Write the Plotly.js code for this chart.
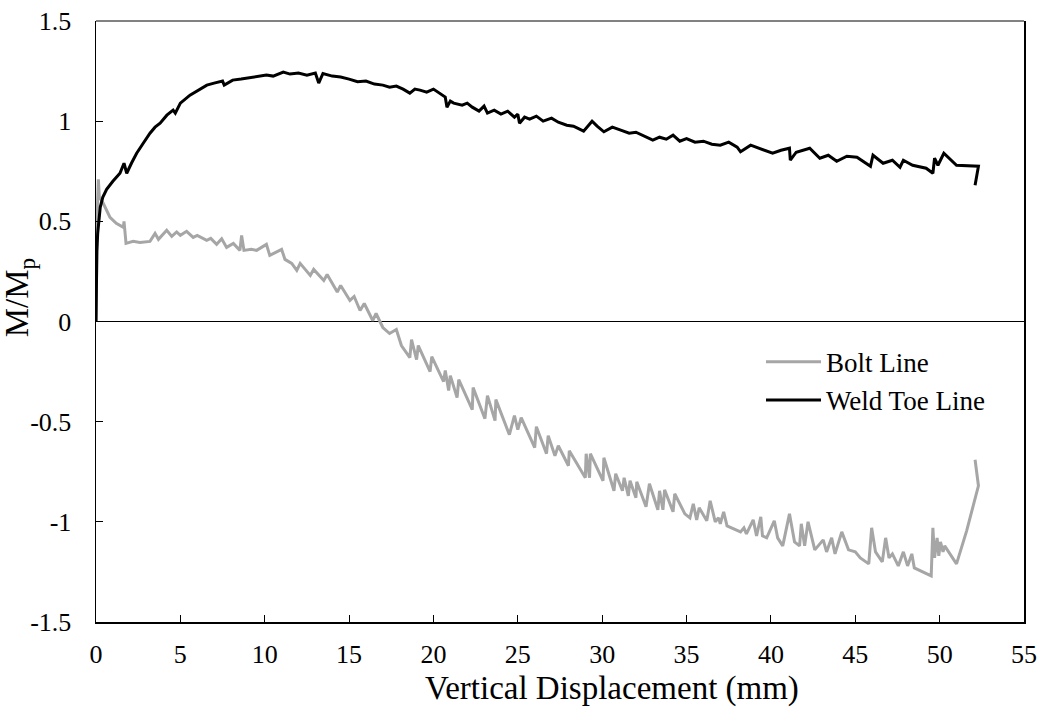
<!DOCTYPE html>
<html>
<head>
<meta charset="utf-8">
<script src="https://cdn.plot.ly/plotly-3.0.1.min.js"></script>
<style>html,body{margin:0;padding:0;background:#fff;}#chart{width:1042px;height:710px;}</style>
</head>
<body>
<div id="chart"></div>
<script>
// Weld Toe Line: vertical displacement (mm) and M/Mp
const weldX = [0,0.02,0.05,0.1,0.18,0.25,0.4,0.63,1.0,1.42,1.66,1.75,1.82,2.1,2.41,2.8,3.2,3.5,3.8,4.2,4.57,4.7,5.0,5.57,6.0,6.57,7.0,7.5,7.6,8.1,8.6,9.0,9.5,10.1,10.5,11.1,11.5,12.0,12.5,13.0,13.2,13.45,14.0,14.5,15.0,15.5,16.0,16.5,17.0,17.4,17.8,18.2,18.6,18.9,19.2,19.6,20.0,20.4,20.7,20.8,21.0,21.2,21.7,22.0,22.3,22.7,23.0,23.2,23.6,24.0,24.4,24.8,25.0,25.1,25.4,25.7,26.1,26.5,27.0,27.4,27.9,28.3,28.9,29.4,29.7,30.1,30.6,31.1,31.6,32.0,32.5,33.0,33.4,33.8,34.2,34.6,35.0,35.5,36.0,36.5,37.0,37.5,38.0,38.2,38.8,39.3,40.1,40.6,41.1,41.15,41.5,42.3,42.9,43.4,43.9,44.5,45.1,45.9,46.05,46.65,47.2,47.65,47.85,48.4,49.2,49.6,49.7,49.9,50.25,51.0,52.3,52.1];
const weldY = [0,0.2,0.35,0.44,0.52,0.57,0.62,0.66,0.70,0.74,0.79,0.76,0.74,0.79,0.84,0.89,0.94,0.97,0.99,1.03,1.055,1.04,1.09,1.13,1.15,1.18,1.19,1.2,1.18,1.205,1.21,1.215,1.22,1.23,1.225,1.245,1.235,1.24,1.23,1.24,1.19,1.238,1.225,1.22,1.21,1.197,1.2,1.185,1.18,1.17,1.175,1.16,1.14,1.16,1.155,1.145,1.16,1.135,1.12,1.07,1.1,1.09,1.08,1.09,1.07,1.05,1.075,1.04,1.055,1.035,1.05,1.02,1.035,0.99,1.02,1.01,1.025,1.0,1.015,0.995,0.98,0.975,0.95,1.0,0.975,0.947,0.97,0.955,0.94,0.945,0.925,0.905,0.92,0.91,0.93,0.9,0.913,0.895,0.9,0.885,0.88,0.895,0.87,0.847,0.88,0.865,0.84,0.855,0.865,0.805,0.845,0.865,0.815,0.83,0.80,0.825,0.82,0.775,0.83,0.79,0.805,0.77,0.805,0.78,0.765,0.74,0.815,0.78,0.84,0.78,0.775,0.68];

// Bolt Line
const boltX = [0,0.03,0.08,0.14,0.2,0.43,0.83,1.2,1.62,1.66,1.78,2.2,2.6,3.2,3.5,3.7,4.19,4.49,4.78,5.0,5.37,5.76,6.0,6.56,6.8,7.15,7.45,7.74,8.14,8.53,8.63,8.77,9.2,9.52,10.1,10.3,11.0,11.2,11.6,11.9,12.1,12.7,12.9,13.5,13.7,14.3,14.5,15.05,15.3,15.65,15.9,16.4,16.6,17.0,17.4,17.8,18.1,18.6,18.7,19.0,19.1,19.8,19.9,20.6,20.7,20.9,21.0,21.4,21.5,22.3,22.35,23.05,23.2,23.65,23.7,24.5,24.8,25.0,25.2,26.0,26.1,26.7,26.8,27.2,27.4,28.0,28.05,29.0,29.05,29.25,29.3,30.05,30.1,30.7,30.8,31.2,31.3,31.55,31.65,32.0,32.05,32.6,32.8,33.3,33.4,33.6,33.7,34.2,34.3,34.9,35.2,35.4,35.6,35.75,36.2,36.4,36.7,36.9,37.0,37.2,37.4,38.2,38.4,38.55,38.95,39.15,39.4,39.5,39.75,40.2,40.4,40.7,41.1,41.4,41.7,41.8,42.0,42.2,42.6,43.1,43.3,43.6,43.8,44.2,44.6,45.0,45.3,45.8,45.97,46.2,46.6,46.8,47.0,47.2,47.55,47.85,48.1,48.35,48.5,49.5,49.6,49.7,49.85,49.95,50.05,50.2,50.3,51.0,51.6,52.3,52.1];
const boltY = [0,0.42,0.56,0.71,0.62,0.59,0.52,0.49,0.47,0.50,0.39,0.40,0.395,0.40,0.44,0.41,0.455,0.425,0.447,0.43,0.45,0.42,0.43,0.405,0.415,0.385,0.413,0.37,0.39,0.355,0.43,0.355,0.36,0.355,0.385,0.33,0.36,0.31,0.29,0.255,0.29,0.23,0.26,0.205,0.235,0.147,0.18,0.105,0.125,0.055,0.09,0.005,0.04,-0.03,-0.06,-0.04,-0.12,-0.18,-0.09,-0.19,-0.12,-0.25,-0.175,-0.30,-0.245,-0.345,-0.27,-0.38,-0.29,-0.44,-0.33,-0.485,-0.37,-0.495,-0.39,-0.565,-0.47,-0.54,-0.48,-0.63,-0.525,-0.66,-0.57,-0.67,-0.62,-0.72,-0.645,-0.78,-0.66,-0.78,-0.66,-0.795,-0.68,-0.845,-0.76,-0.845,-0.78,-0.87,-0.795,-0.88,-0.8,-0.925,-0.81,-0.94,-0.845,-0.94,-0.84,-0.95,-0.86,-0.96,-0.98,-0.91,-0.99,-0.93,-0.995,-0.895,-1.0,-0.98,-1.01,-0.95,-1.02,-1.05,-1.03,-1.06,-0.99,-1.07,-0.975,-1.07,-1.08,-0.995,-1.08,-1.12,-0.96,-1.1,-1.12,-1.01,-1.12,-1.0,-1.14,-1.09,-1.15,-1.08,-1.16,-1.05,-1.14,-1.15,-1.18,-1.21,-1.03,-1.15,-1.2,-1.08,-1.18,-1.16,-1.22,-1.15,-1.22,-1.16,-1.23,-1.27,-1.03,-1.18,-1.08,-1.17,-1.1,-1.15,-1.12,-1.21,-1.045,-0.82,-0.69];

const xTicks = [0,5,10,15,20,25,30,35,40,45,50,55];
const yTicks = [-1.5,-1,-0.5,0,0.5,1,1.5];
const yTickText = ['-1.5','-1','-0.5','0','0.5','1','1.5'];
const xTitle = 'Vertical Displacement (mm)';
const yTitle = 'M/M<sub>p</sub>';

const FONT = 'Liberation Serif, Times New Roman, serif';

const traces = [
  {x: boltX, y: boltY, mode: 'lines', name: 'Bolt Line',
   line: {color: '#a6a6a6', width: 3}},
  {x: weldX, y: weldY, mode: 'lines', name: 'Weld Toe Line',
   line: {color: '#000000', width: 3}}
];

const layout = {
  width: 1042, height: 710,
  margin: {l: 96, r: 18, t: 21, b: 88},
  paper_bgcolor: '#fff', plot_bgcolor: '#fff',
  font: {family: FONT, color: '#000', size: 26},
  showlegend: true,
  legend: {x: 0.7166, y: 0.473, xanchor: 'left', yanchor: 'top',
           itemwidth: 55,
           font: {family: FONT, size: 27, color: '#000'},
           bgcolor: 'rgba(0,0,0,0)'},
  xaxis: {
    range: [0, 55], tickvals: xTicks, ticks: 'inside', ticklen: 7, tickcolor: '#000',
    showgrid: false, zeroline: false, showline: true, linecolor: '#000', linewidth: 1.5,
    mirror: false, tickfont: {family: FONT, size: 26}, ticklabelstandoff: 8
  },
  yaxis: {
    range: [-1.5, 1.5], tickvals: yTicks, ticktext: yTickText, ticks: 'inside', ticklen: 7, tickcolor: '#000',
    showgrid: false, zeroline: true, zerolinecolor: '#000', zerolinewidth: 1.5,
    showline: true, linecolor: '#000', linewidth: 1.5, mirror: true,
    tickfont: {family: FONT, size: 26}, ticklabelstandoff: 18
  },
  shapes: [
    {type: 'line', xref: 'paper', yref: 'paper', x0: 0, x1: 1, y0: 1, y1: 1,
     line: {color: '#595959', width: 1.5}}
  ],
  annotations: [
    {text: xTitle, xref: 'paper', yref: 'paper', x: 0.556, y: -0.11,
     xanchor: 'center', yanchor: 'middle', showarrow: false,
     font: {family: FONT, size: 33, color: '#000'}},
    {text: yTitle, xref: 'paper', yref: 'paper', x: -0.082, y: 0.54,
     xanchor: 'center', yanchor: 'middle', showarrow: false, textangle: -90,
     font: {family: FONT, size: 33, color: '#000'}}
  ]
};

Plotly.newPlot('chart', traces, layout, {displayModeBar: false, staticPlot: true});
</script>
</body>
</html>
